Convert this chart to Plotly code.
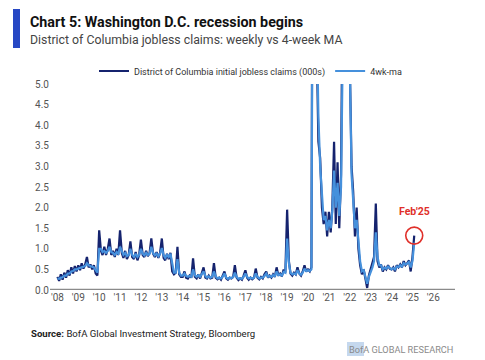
import plotly.graph_objects as go
import pandas as pd

# Monthly readings of the weekly series (000s) and its 4-week MA, Jan 2008 - Feb 2025
weekly_by_year = {
    2008: [0.32, 0.22, 0.38, 0.25, 0.42, 0.30, 0.48, 0.35, 0.55, 0.40, 0.58, 0.45],
    2009: [0.60, 0.48, 0.65, 0.52, 0.62, 0.80, 0.55, 0.62, 0.50, 0.60, 0.40, 0.35],
    2010: [1.45, 0.95, 0.85, 1.05, 0.85, 1.00, 1.25, 0.85, 0.95, 0.80, 1.00, 0.85],
    2011: [1.45, 0.90, 0.78, 0.95, 0.75, 0.85, 1.18, 0.80, 0.75, 0.92, 0.72, 0.85],
    2012: [1.22, 0.85, 0.80, 0.95, 0.82, 0.90, 1.25, 0.88, 0.80, 0.92, 0.78, 0.90],
    2013: [1.25, 0.78, 0.72, 0.88, 0.75, 0.90, 0.45, 0.38, 0.42, 1.05, 0.38, 0.32],
    2014: [0.32, 0.45, 0.30, 0.28, 0.35, 0.30, 0.77, 0.32, 0.28, 0.38, 0.28, 0.42],
    2015: [0.55, 0.30, 0.28, 0.35, 0.28, 0.30, 0.65, 0.30, 0.26, 0.30, 0.25, 0.35],
    2016: [0.45, 0.28, 0.25, 0.30, 0.28, 0.32, 0.60, 0.30, 0.24, 0.28, 0.25, 0.35],
    2017: [0.48, 0.30, 0.25, 0.30, 0.26, 0.30, 0.52, 0.30, 0.26, 0.32, 0.28, 0.38],
    2018: [0.45, 0.30, 0.35, 0.30, 0.38, 0.32, 0.55, 0.35, 0.40, 0.33, 0.50, 0.42],
    2019: [1.95, 0.70, 0.40, 0.35, 0.42, 0.38, 0.55, 0.40, 0.35, 0.45, 0.60, 0.45],
    2020: [0.50, 0.45, 0.55, 15.0, 9.00, 6.00, 3.60, 3.20, 2.00, 1.60, 1.90, 1.30],
    2021: [1.90, 1.40, 2.00, 3.60, 1.60, 3.10, 1.50, 2.80, 8.00, 11.0, 8.00, 6.00],
    2022: [5.50, 3.00, 2.40, 1.30, 2.00, 1.00, 0.60, 0.38, 0.50, 0.28, 0.05, 0.35],
    2023: [0.50, 0.60, 0.80, 2.10, 0.70, 0.55, 0.62, 0.45, 0.55, 0.50, 0.60, 0.52],
    2024: [0.50, 0.55, 0.45, 0.60, 0.55, 0.62, 0.55, 0.70, 0.60, 0.65, 0.72, 0.45],
    2025: [0.80, 1.32],
}
ma_by_year = {
    2008: [0.28, 0.27, 0.30, 0.31, 0.35, 0.35, 0.40, 0.40, 0.45, 0.46, 0.50, 0.50],
    2009: [0.52, 0.54, 0.56, 0.57, 0.58, 0.65, 0.60, 0.58, 0.56, 0.55, 0.48, 0.42],
    2010: [1.00, 1.00, 0.92, 0.95, 0.90, 0.95, 1.05, 0.92, 0.90, 0.85, 0.92, 0.88],
    2011: [1.05, 0.92, 0.85, 0.90, 0.82, 0.85, 1.00, 0.85, 0.80, 0.88, 0.80, 0.85],
    2012: [1.00, 0.88, 0.84, 0.90, 0.85, 0.88, 1.05, 0.90, 0.84, 0.88, 0.82, 0.88],
    2013: [1.02, 0.85, 0.78, 0.85, 0.80, 0.88, 0.60, 0.42, 0.42, 0.75, 0.42, 0.35],
    2014: [0.35, 0.40, 0.34, 0.32, 0.34, 0.32, 0.50, 0.36, 0.32, 0.36, 0.32, 0.38],
    2015: [0.45, 0.34, 0.30, 0.33, 0.30, 0.32, 0.45, 0.33, 0.28, 0.30, 0.28, 0.32],
    2016: [0.40, 0.30, 0.27, 0.30, 0.29, 0.31, 0.42, 0.32, 0.27, 0.28, 0.27, 0.32],
    2017: [0.40, 0.32, 0.28, 0.30, 0.28, 0.30, 0.40, 0.32, 0.28, 0.30, 0.30, 0.34],
    2018: [0.40, 0.32, 0.34, 0.32, 0.36, 0.34, 0.45, 0.36, 0.38, 0.35, 0.44, 0.42],
    2019: [1.25, 0.65, 0.42, 0.38, 0.40, 0.38, 0.48, 0.40, 0.37, 0.42, 0.52, 0.46],
    2020: [0.48, 0.46, 0.50, 12.0, 9.50, 6.50, 4.20, 3.00, 2.20, 1.70, 1.80, 1.45],
    2021: [1.70, 1.50, 1.90, 2.90, 2.00, 2.60, 1.80, 2.50, 6.00, 10.0, 8.00, 6.00],
    2022: [5.50, 2.80, 2.20, 1.50, 1.70, 1.10, 0.70, 0.45, 0.48, 0.32, 0.15, 0.32],
    2023: [0.42, 0.55, 0.70, 1.40, 0.80, 0.60, 0.60, 0.50, 0.54, 0.52, 0.57, 0.54],
    2024: [0.50, 0.53, 0.50, 0.57, 0.56, 0.60, 0.57, 0.65, 0.62, 0.64, 0.68, 0.55],
    2025: [0.70, 1.15],
}
year_ticks = list(range(2008, 2027))
tick_labels = ["'" + str(y)[2:] for y in year_ticks]
y_ticks = [0, 0.5, 1.0, 1.5, 2.0, 2.5, 3.0, 3.5, 4.0, 4.5, 5.0]

dates, weekly, ma = [], [], []
for yr in weekly_by_year:
    for m, (w, a) in enumerate(zip(weekly_by_year[yr], ma_by_year[yr]), start=1):
        dates.append(pd.Timestamp(yr, m, 1))
        weekly.append(w)
        ma.append(a)

DARK = "#15236e"
LIGHT = "#4590dc"
RED = "#e0302a"
GREY = "#555555"
FONT = "Roboto"

# page has an 8px body margin; plot area spans x 50-455, y 84-290 in the window
PW, PH = 405, 206
def px(x):
    return (x - 50) / PW
def py(y):
    return (290 - y) / PH

fig = go.Figure()
fig.add_trace(go.Scatter(x=dates, y=weekly, mode="lines",
                         name="District of Columbia initial jobless claims (000s)",
                         line=dict(color=DARK, width=2.2)))
fig.add_trace(go.Scatter(x=dates, y=ma, mode="lines", name="4wk-ma",
                         line=dict(color=LIGHT, width=2.2)))
fig.add_trace(go.Scatter(x=[dates[-1]], y=[weekly[-1]], mode="markers", showlegend=False,
                         marker=dict(symbol="circle-open", size=17, color=RED,
                                     line=dict(color=RED, width=1.6))))
fig.add_annotation(x=dates[-1], y=weekly[-1], yshift=24, text="<b>Feb'25</b>",
                   showarrow=False, font=dict(color=RED, size=10.5, family=FONT))

fig.update_layout(
    width=477, height=352,
    margin=dict(l=42, r=30, t=76, b=70),
    paper_bgcolor="white", plot_bgcolor="white",
    font=dict(family=FONT, color=GREY, size=10),
    showlegend=True,
    legend=dict(orientation="h", x=px(94), xanchor="left", y=py(71), yanchor="middle",
                font=dict(size=9, color="#333333"), itemwidth=30,
                bgcolor="rgba(0,0,0,0)", tracegroupgap=0),
    xaxis=dict(type="date", range=["2007-08-25", "2027-01-15"],
               tickvals=[pd.Timestamp(y, 1, 1) for y in year_ticks], ticktext=tick_labels,
               showgrid=False, zeroline=False, showline=False, ticks="",
               tickfont=dict(size=10, color=GREY)),
    yaxis=dict(range=[0, 5], tickvals=y_ticks, tickformat=".1f", showgrid=False,
               zeroline=False, showline=False, ticks="", tickfont=dict(size=10, color=GREY)),
    shapes=[
        dict(type="line", xref="paper", yref="y", x0=0, x1=1, y0=0, y1=0,
             line=dict(color="#8a8a8a", width=2.5), layer="above"),
        dict(type="rect", xref="paper", yref="paper", x0=px(13), x1=px(20),
             y0=py(48), y1=py(9), fillcolor="#2748c4", line=dict(width=0)),
        dict(type="rect", xref="paper", yref="paper", x0=px(347), x1=px(364),
             y0=py(356), y1=py(342), fillcolor="#c5d8ee", line=dict(width=0), layer="below"),
    ],
)

fig.add_annotation(xref="paper", yref="paper", x=px(28), y=py(22),
                   xanchor="left", yanchor="middle", showarrow=False,
                   text="<b>Chart 5: Washington D.C. recession begins</b>",
                   font=dict(size=14.3, color="#111111", family=FONT))
fig.add_annotation(xref="paper", yref="paper", x=px(28), y=py(40),
                   xanchor="left", yanchor="middle", showarrow=False,
                   text="District of Columbia jobless claims: weekly vs 4-week MA",
                   font=dict(size=12.3, color="#444444", family=FONT))
fig.add_annotation(xref="paper", yref="paper", x=px(29), y=py(333),
                   xanchor="left", yanchor="middle", showarrow=False,
                   text="<b>Source:</b> BofA Global Investment Strategy, Bloomberg",
                   font=dict(size=9.6, color="#222222", family=FONT))
fig.add_annotation(xref="paper", yref="paper", x=1.0, y=py(349),
                   xanchor="right", yanchor="middle", showarrow=False,
                   text="BofA GLOBAL RESEARCH",
                   font=dict(size=9.2, color="#8a8a8a", family=FONT))

fig.write_html("out.html")
